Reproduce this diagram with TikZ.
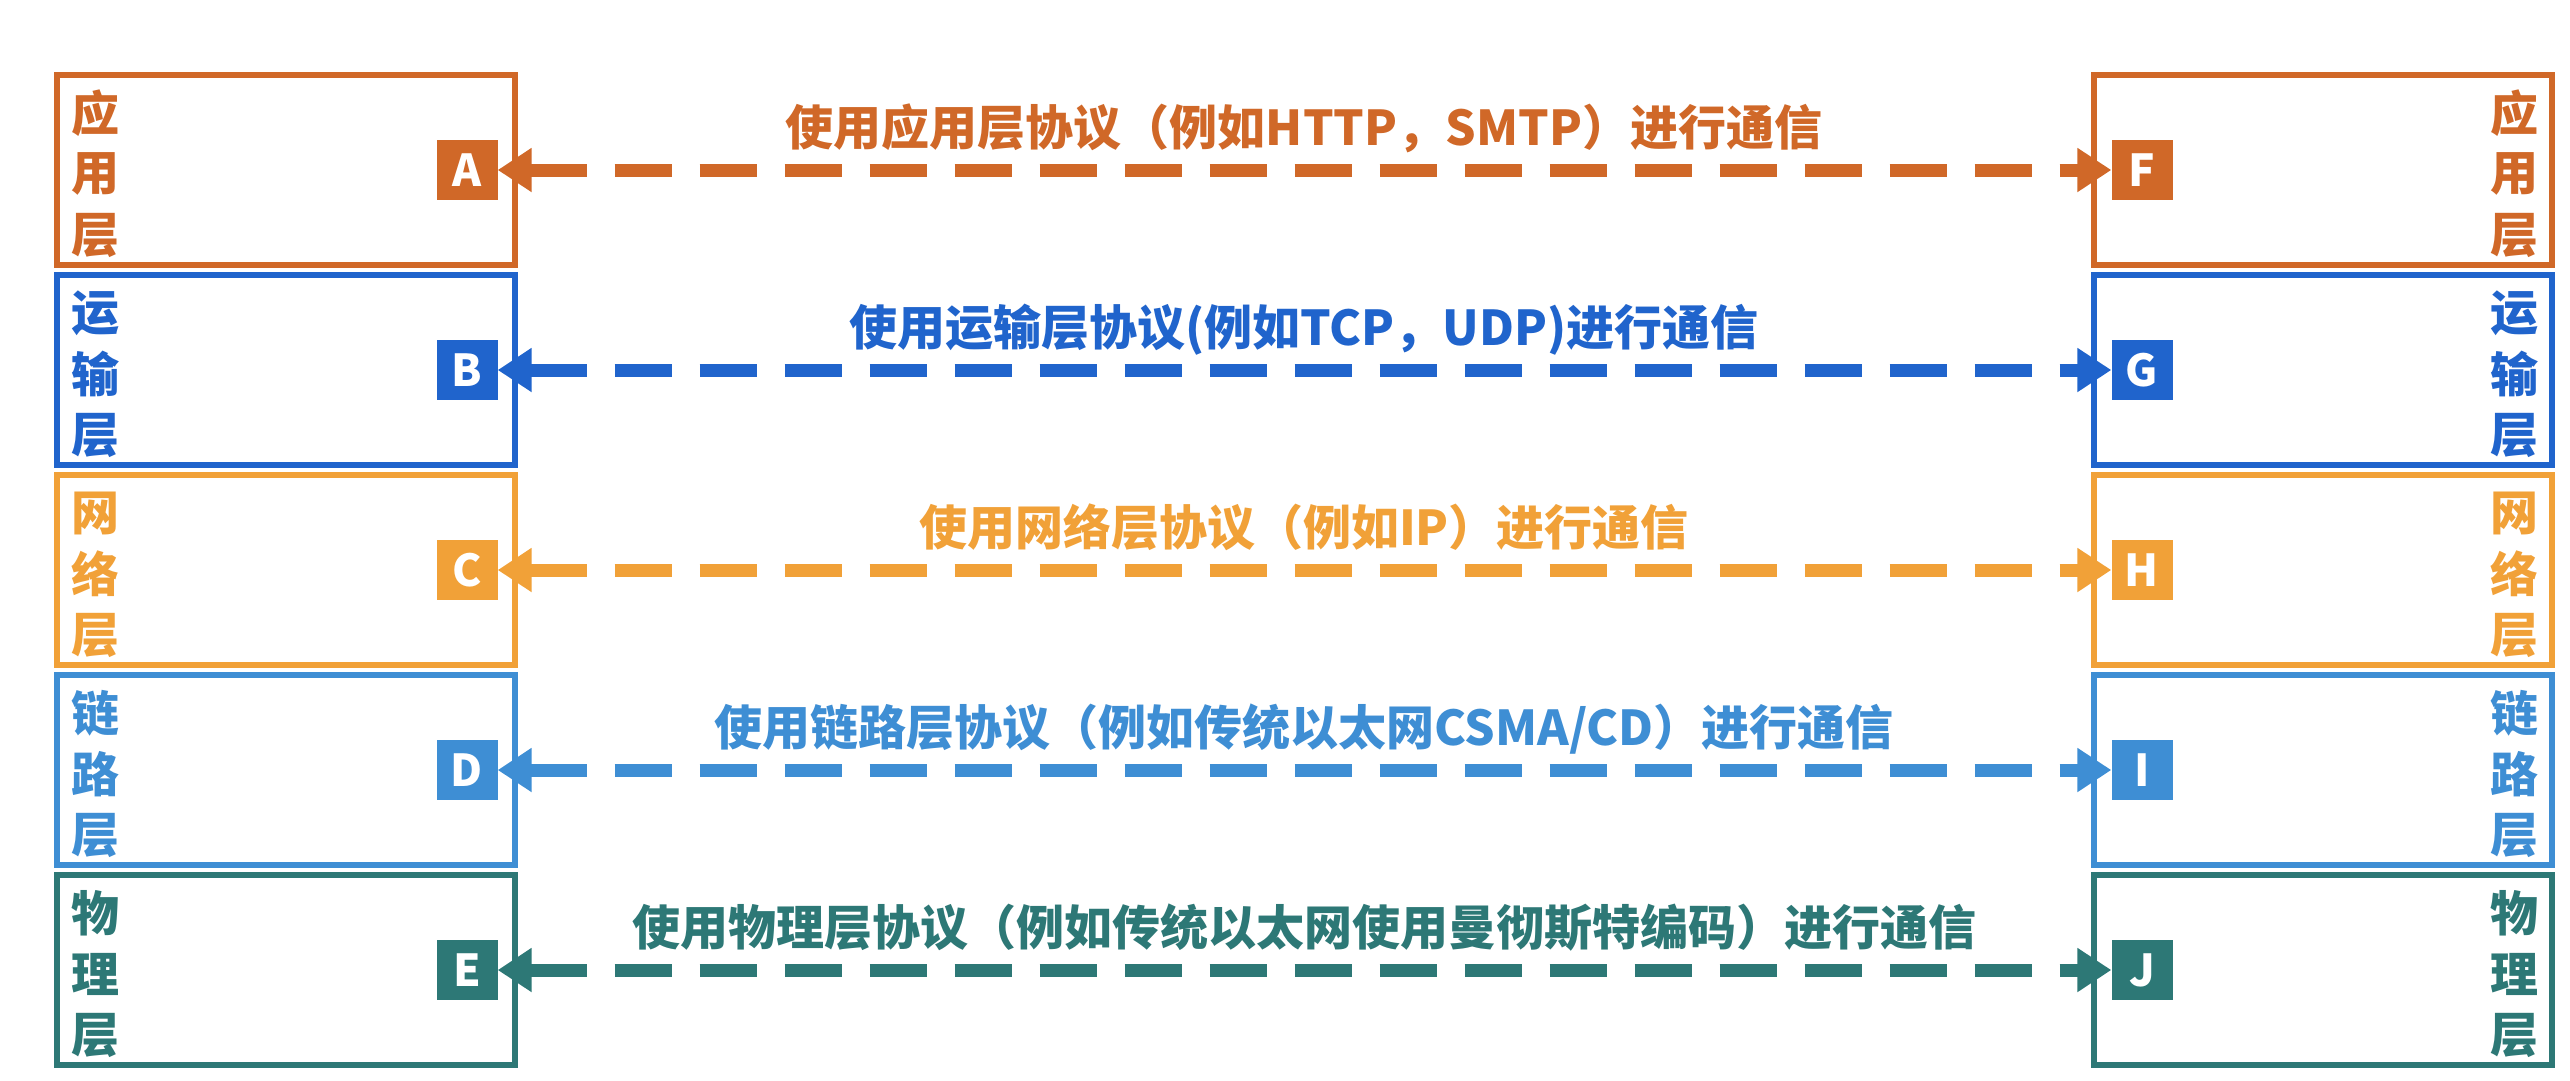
\documentclass[tikz,border=0pt]{standalone}
\usepackage{fontspec}
\setmainfont{Noto Sans CJK SC}
\usetikzlibrary{arrows.meta}
\definecolor{capp}{RGB}{208,104,40}
\definecolor{ctra}{RGB}{32,100,204}
\definecolor{cnet}{RGB}{241,161,56}
\definecolor{clnk}{RGB}{62,142,212}
\definecolor{cphy}{RGB}{45,120,118}
\tikzset{
  layerbox/.style={draw=#1, line width=6pt},
  sq/.style={fill=#1, text=white, minimum width=61pt, minimum height=60pt, inner sep=0pt,
    font=\fontsize{44pt}{50pt}\selectfont\bfseries},
  lchar/.style={text=#1, inner sep=0pt, font=\fontsize{48pt}{56pt}\selectfont\bfseries},
  proto/.style={text=#1, inner sep=0pt, anchor=base, font=\fontsize{48pt}{56pt}\selectfont\bfseries},
  conn/.style={draw=#1, line width=13pt, dash pattern=on 57pt off 28pt,
    {Triangle[length=34pt,width=42pt]}-{Triangle[length=34pt,width=42pt]}}
}
% #1 index, #2 colour, #3 #4 #5 chars, #6 left letter, #7 right letter, #8 text
\newcommand\drawlayer[8]{%
  \pgfmathsetmacro\cy{170+200*#1}
  \draw[layerbox=#2] (57,{75+200*#1}) rectangle (515,{265+200*#1});
  \draw[layerbox=#2] (2094,{75+200*#1}) rectangle (2552,{265+200*#1});
  \node[lchar=#2] (L#6a) at (95,{\cy-57}) {#3};
  \node[lchar=#2] (L#6b) at (95,{\cy+4}) {#4};
  \node[lchar=#2] (L#6c) at (95,{\cy+65}) {#5};
  \node[lchar=#2] (R#7a) at (2514,{\cy-57}) {#3};
  \node[lchar=#2] (R#7b) at (2514,{\cy+4}) {#4};
  \node[lchar=#2] (R#7c) at (2514,{\cy+65}) {#5};
  \node[sq=#2] (#6) at (467,\cy) {#6};
  \node[sq=#2] (#7) at (2142,\cy) {#7};
  \draw[conn=#2] (#6) -- (#7);
  \node[proto=#2] (T#6) at (1304,{\cy-25}) {#8};
}
\begin{document}
\begin{tikzpicture}[x=1pt,y=-1pt]
\fill[white] (0,0) rectangle (2570,1080);
\useasboundingbox (0,0) rectangle (2570,1080);
\drawlayer{0}{capp}{应}{用}{层}{A}{F}{使用应用层协议（例如HTTP，SMTP）进行通信}
\drawlayer{1}{ctra}{运}{输}{层}{B}{G}{使用运输层协议(例如TCP，UDP)进行通信}
\drawlayer{2}{cnet}{网}{络}{层}{C}{H}{使用网络层协议（例如IP）进行通信}
\drawlayer{3}{clnk}{链}{路}{层}{D}{I}{使用链路层协议（例如传统以太网CSMA/CD）进行通信}
\drawlayer{4}{cphy}{物}{理}{层}{E}{J}{使用物理层协议（例如传统以太网使用曼彻斯特编码）进行通信}
\end{tikzpicture}
\end{document}
